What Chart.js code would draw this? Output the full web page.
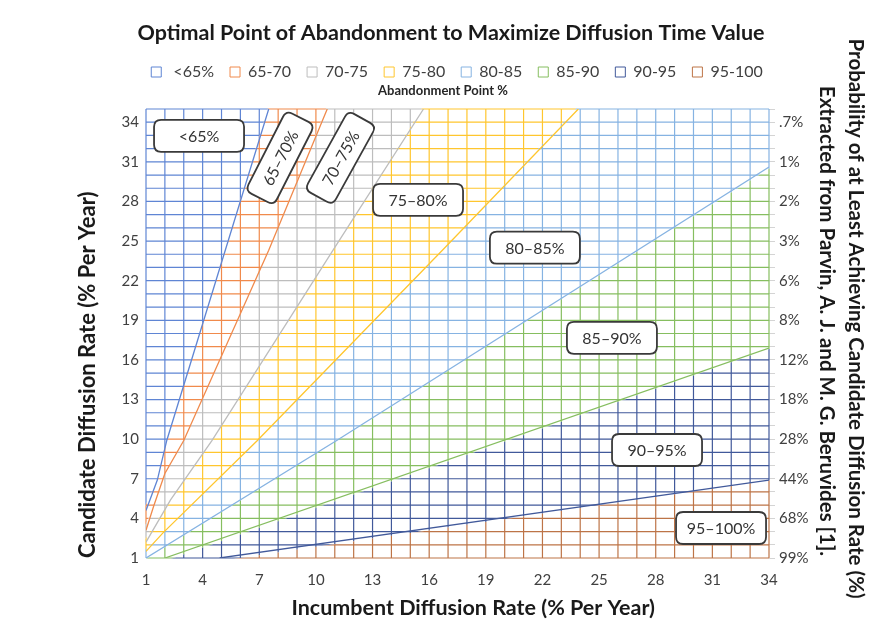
<!DOCTYPE html>
<html>
<head>
<meta charset="utf-8">
<script src="https://cdn.jsdelivr.net/npm/chart.js@4.4.0/dist/chart.umd.min.js"></script>
<style>
  html, body { margin: 0; padding: 0; background: #ffffff; }
  #wrap { width: 886px; height: 641px; }
</style>
</head>
<body>
<div id="wrap"><canvas id="c" width="886" height="641"></canvas></div>
<script>
// ---------------- data ----------------
const incumbentRates = [1,2,3,4,5,6,7,8,9,10,11,12,13,14,15,16,17,18,19,20,21,22,23,24,25,26,27,28,29,30,31,32,33,34];
const candidateRates = [1,2,3,4,5,6,7,8,9,10,11,12,13,14,15,16,17,18,19,20,21,22,23,24,25,26,27,28,29,30,31,32,33,34,35];
const xTickValues = [1,4,7,10,13,16,19,22,25,28,31,34];
const yTickValues = [1,4,7,10,13,16,19,22,25,28,31,34];
const probabilityLabels = ['99%','68%','44%','28%','18%','12%','8%','6%','3%','2%','1%','.7%'];
const bandNames = [' <65%','65-70','70-75','75-80','80-85','85-90','90-95','95-100'];
const regionNames = ['<65%','65–70%','70–75%','75–80%','80–85%','85–90%','90–95%','95–100%'];

// contour lines (band boundaries): x = incumbent, y = candidate
const contour65 = [{x:7.5,y:35},{x:2.1,y:9.9},{x:1.6,y:6.9},{x:1,y:4.6}];
const contour70 = [{x:10.6,y:35},{x:7.5,y:24.3},{x:3.0,y:9.9},{x:2.0,y:7.4},{x:1.4,y:4.9},{x:1,y:3.1}];
const contour75 = [{x:15.7,y:35},{x:10.9,y:24.3},{x:4.5,y:9.9},{x:2.3,y:5.4},{x:1,y:2.2}];
const contour80 = [{x:23.9,y:35},{x:16.7,y:24.3},{x:6.9,y:9.9},{x:1.9,y:2.9},{x:1,y:1.5}];
const contour85 = [{x:34,y:30.6},{x:11.1,y:9.9},{x:1,y:1}];
const contour90 = [{x:34,y:16.9},{x:2.0,y:1}];
const contour95 = [{x:34,y:6.9},{x:4.9,y:1}];

// ---------------- styles ----------------
const bandColors = ['#5f85d4','#f08a4c','#bdbdbd','#ffc62e','#86b3e2','#86be60','#41599a','#bd7447'];
const contours = [contour65, contour70, contour75, contour80, contour85, contour90, contour95];
const FONT = 'Lato, "Open Sans", sans-serif';
Chart.defaults.font.family = FONT;
Chart.defaults.color = '#404040';

function toPx(chart, p) {
  const xs = chart.scales.x, ys = chart.scales.y;
  let X = xs.getPixelForValue(p.x), Y = ys.getPixelForValue(p.y);
  if (p.x <= xs.min) X -= 3; else if (p.x >= xs.max) X += 3;
  if (p.y <= ys.min) Y += 3; else if (p.y >= ys.max) Y -= 3;
  return [X, Y];
}
function addRegion(ctx, chart, contour) {
  const xs = chart.scales.x, ys = chart.scales.y;
  const pts = contour.slice();
  const first = pts[0], last = pts[pts.length - 1];
  if (last.y <= ys.min) pts.push({x: xs.min, y: ys.min});
  pts.push({x: xs.min, y: ys.max});
  if (first.x >= xs.max) pts.push({x: xs.max, y: ys.max});
  pts.forEach((p, i) => { const [X, Y] = toPx(chart, p); if (i) ctx.lineTo(X, Y); else ctx.moveTo(X, Y); });
  ctx.closePath();
}

const bandGridPlugin = {
  id: 'bandGrid',
  beforeDatasetsDraw(chart) {
    const ctx = chart.ctx, xs = chart.scales.x, ys = chart.scales.y;
    const {left, right, top, bottom} = chart.chartArea;
    for (let b = 0; b < bandColors.length; b++) {
      ctx.save();
      ctx.beginPath();
      if (b < contours.length) addRegion(ctx, chart, contours[b]);
      else ctx.rect(left - 3, top - 3, right - left + 6, bottom - top + 6);
      if (b > 0) addRegion(ctx, chart, contours[b - 1]);
      ctx.clip('evenodd');
      ctx.strokeStyle = bandColors[b];
      ctx.lineWidth = 1.2;
      ctx.beginPath();
      incumbentRates.forEach(v => { const X = xs.getPixelForValue(v); ctx.moveTo(X, top); ctx.lineTo(X, bottom); });
      candidateRates.forEach(v => { const Y = ys.getPixelForValue(v); ctx.moveTo(left, Y); ctx.lineTo(right, Y); });
      ctx.stroke();
      ctx.restore();
    }
  }
};

// nudge the legend row and title so that they are centred like the reference
const boxShiftPlugin = {
  id: 'boxShift',
  afterLayout(chart, args, opts) {
    if (chart.legend) { chart.legend.left += opts.legendDx; chart.legend.right += opts.legendDx; }
    if (chart.titleBlock) { chart.titleBlock.left += opts.titleDx; chart.titleBlock.right += opts.titleDx; }
  }
};

function roundRectPath(ctx, x, y, w, h, r) {
  ctx.beginPath();
  ctx.moveTo(x + r, y);
  ctx.lineTo(x + w - r, y); ctx.quadraticCurveTo(x + w, y, x + w, y + r);
  ctx.lineTo(x + w, y + h - r); ctx.quadraticCurveTo(x + w, y + h, x + w - r, y + h);
  ctx.lineTo(x + r, y + h); ctx.quadraticCurveTo(x, y + h, x, y + h - r);
  ctx.lineTo(x, y + r); ctx.quadraticCurveTo(x, y, x + r, y);
  ctx.closePath();
}

const regionLabelPlugin = {
  id: 'regionLabels',
  afterDatasetsDraw(chart, args, opts) {
    const ctx = chart.ctx, xs = chart.scales.x, ys = chart.scales.y;
    opts.items.forEach((it, i) => {
      const X = xs.getPixelForValue(it.x), Y = ys.getPixelForValue(it.y);
      ctx.save();
      ctx.translate(X, Y);
      ctx.rotate(it.angle * Math.PI / 180);
      const w = opts.width, h = opts.height;
      roundRectPath(ctx, -w / 2, -h / 2, w, h, opts.radius);
      ctx.fillStyle = '#ffffff';
      ctx.fill();
      ctx.lineWidth = 1.8;
      ctx.strokeStyle = '#3a3a3a';
      ctx.stroke();
      ctx.fillStyle = '#333333';
      ctx.font = '16px ' + FONT;
      ctx.textAlign = 'center';
      ctx.textBaseline = 'middle';
      ctx.fillText(regionNames[i], 0, 1);
      ctx.restore();
    });
  }
};

const datasets = contours.map((c, i) => ({
  label: 'boundary ' + bandNames[i],
  data: c,
  borderColor: bandColors[i],
  borderWidth: 1.3,
  pointRadius: 0,
  fill: false,
  tension: 0
}));

new Chart(document.getElementById('c'), {
  type: 'line',
  data: { datasets },
  options: {
    responsive: false,
    animation: false,
    layout: { padding: 0 },
    plugins: {
      title: {
        display: true,
        text: 'Optimal Point of Abandonment to Maximize Diffusion Time Value',
        font: { size: 21.5, weight: 'bold' },
        color: '#1a1a1a',
        padding: { top: 20.1, bottom: 2.1 }
      },
      legend: {
        display: true,
        labels: {
          boxWidth: 10,
          boxHeight: 10,
          padding: 16,
          font: { size: 16 },
          color: '#404040',
          generateLabels: () => bandNames.map((t, i) => ({
            text: t, fillStyle: '#ffffff', strokeStyle: bandColors[i], lineWidth: 1, hidden: false, fontColor: '#404040'
          }))
        }
      },
      boxShift: { legendDx: 14, titleDx: 8 },
      subtitle: {
        display: true,
        text: 'Abandonment Point %',
        weight: 500,
        font: { size: 13, weight: 'bold' },
        color: '#262626',
        padding: { top: -7, bottom: 10.4 }
      },
      tooltip: { enabled: false },
      regionLabels: {
        width: 90, height: 32, radius: 7,
        items: [
          {x: 3.81, y: 32.97, angle: 0},
          {x: 8.1, y: 31.3, angle: -63},
          {x: 11.3, y: 31.3, angle: -61},
          {x: 15.41, y: 28.12, angle: 0},
          {x: 21.6, y: 24.5, angle: 0},
          {x: 25.68, y: 17.67, angle: 0},
          {x: 28.07, y: 9.18, angle: 0},
          {x: 31.46, y: 3.27, angle: 0}
        ]
      }
    },
    scales: {
      x: {
        type: 'linear', position: 'bottom', min: 1, max: 34,
        afterBuildTicks: s => { s.ticks = xTickValues.map(v => ({value: v})); },
        afterFit: s => { s.height = 83; },
        grid: { display: false, drawTicks: false },
        border: { display: false },
        ticks: { padding: 13, font: { size: 15 }, color: '#404040', autoSkip: false, maxRotation: 0 },
        title: {
          display: true, text: '      Incumbent Diffusion Rate (% Per Year)',
          font: { size: 21.5, weight: 'bold' }, color: '#1a1a1a',
          padding: { top: 0, bottom: 20 }
        }
      },
      y: {
        type: 'linear', position: 'left', min: 1, max: 35,
        afterBuildTicks: s => { s.ticks = yTickValues.map(v => ({value: v})); },
        afterFit: s => { s.width = 146; },
        grid: { display: false, drawTicks: false },
        border: { display: false },
        ticks: { padding: 7, font: { size: 15 }, color: '#404040', autoSkip: false },
        title: {
          display: true, text: 'Candidate Diffusion Rate (% Per Year)', align: 'start',
          font: { size: 22, weight: 'bold' }, color: '#1a1a1a',
          padding: { top: 75, bottom: 0 }
        }
      },
      y2: {
        type: 'linear', position: 'right', min: 1, max: 35,
        afterBuildTicks: s => { s.ticks = candidateRates.map(v => ({value: v})); },
        afterFit: s => { s.width = 117; },
        grid: { display: true, drawOnChartArea: false, drawTicks: true, tickLength: 6, color: '#d4d4d4', lineWidth: 1 },
        border: { display: false },
        ticks: {
          padding: 4, font: { size: 15 }, color: '#404040', autoSkip: false,
          callback: v => { const k = yTickValues.indexOf(v); return k >= 0 ? probabilityLabels[k] : ''; }
        },
        title: {
          display: true,
          text: ['Probability of at Least Achieving Candidate Diffusion Rate (%)      ', 'Extracted from Parvin, A. J. and M. G. Beruvides [1].     '],
          font: { size: 20.5, weight: 'bold', lineHeight: 1.4 }, color: '#1a1a1a',
          padding: { top: 16.5, bottom: 0 }
        }
      }
    }
  },
  plugins: [bandGridPlugin, regionLabelPlugin, boxShiftPlugin]
});
</script>
</body>
</html>
